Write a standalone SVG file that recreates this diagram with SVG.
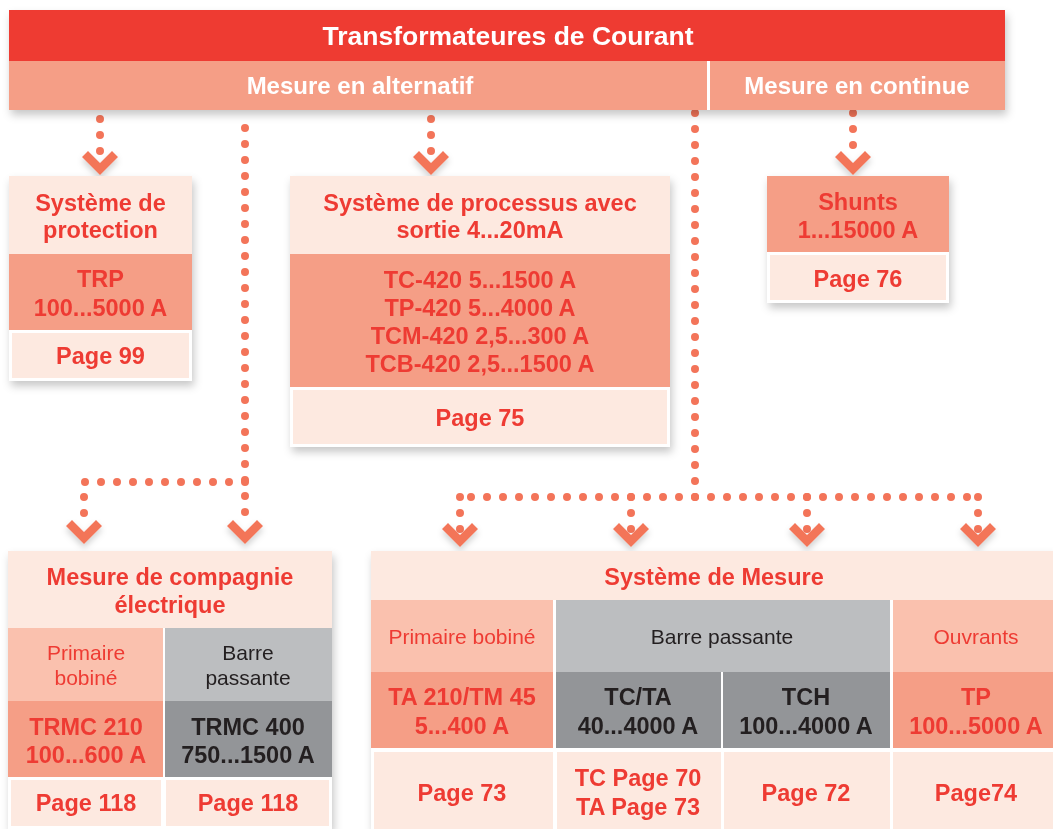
<svg xmlns="http://www.w3.org/2000/svg" width="1053" height="829" viewBox="0 0 1053 829">
<defs>
<filter id="sh" x="-10%" y="-10%" width="125%" height="130%">
<feDropShadow dx="2" dy="5" stdDeviation="4" flood-color="#000" flood-opacity="0.22"/>
</filter>
<filter id="shs" x="-30%" y="-30%" width="160%" height="180%">
<feDropShadow dx="0" dy="4" stdDeviation="3" flood-color="#000" flood-opacity="0.18"/>
</filter>
<path id="chev" d="M-18,-18 L-12,-24 L0,-12 L12,-24 L18,-18 L0,0 Z"/>
</defs>
<style>
text{font-family:"Liberation Sans",Arial,sans-serif;text-anchor:middle}
.b{font-weight:bold;font-size:23.5px;fill:#EE3B33}
.bd{font-weight:bold;font-size:23.5px;fill:#231F20}
.r{font-size:21px;fill:#EE3B33}
.rd{font-size:21px;fill:#231F20}
.w{font-weight:bold;fill:#FFFFFF}
.lt{fill:#FDE9E0}
.sa{fill:#F59E86}
.sl{fill:#FAC1AE}
.gl{fill:#BCBEC0}
.gd{fill:#939598}
.pg{fill:#FDE9E0;stroke:#FFFFFF;stroke-width:3}
.dot{fill:none;stroke:#F37459;stroke-width:8;stroke-linecap:round;stroke-dasharray:0 16}
.ch{fill:#F37459}
</style>

<g id="connectors">
<path class="dot" d="M100,119 V156"/>
<path class="dot" d="M245,128 V527"/>
<path class="dot" d="M245,482 H84 V527"/>
<path class="dot" d="M431,119 V156"/>
<path class="dot" d="M695,113 V497"/>
<path class="dot" d="M695,497 H458"/>
<path class="dot" d="M695,497 H979"/>
<path class="dot" d="M460,497 V531"/>
<path class="dot" d="M631,497 V531"/>
<path class="dot" d="M807,497 V531"/>
<path class="dot" d="M978,497 V531"/>
<path class="dot" d="M853,113 V156"/>
<g filter="url(#shs)">
<use href="#chev" class="ch" x="100" y="175"/>
<use href="#chev" class="ch" x="431" y="175"/>
<use href="#chev" class="ch" x="853" y="175"/>
<use href="#chev" class="ch" x="84" y="544"/>
<use href="#chev" class="ch" x="245" y="544"/>
<use href="#chev" class="ch" x="460" y="547"/>
<use href="#chev" class="ch" x="631" y="547"/>
<use href="#chev" class="ch" x="807" y="547"/>
<use href="#chev" class="ch" x="978" y="547"/>
</g>
</g>

<g id="header" filter="url(#sh)">
<rect x="9" y="10" width="996" height="51" fill="#EE3B33"/>
<rect x="9" y="61" width="996" height="49" fill="#F59E86"/>
<rect x="707" y="61" width="3" height="49" fill="#FFFFFF"/>
<text class="w" x="508" y="45" font-size="26.5">Transformateures de Courant</text>
<text class="w" x="360" y="94" font-size="24">Mesure en alternatif</text>
<text class="w" x="857" y="94" font-size="24">Mesure en continue</text>
</g>

<g id="protection">
<rect x="9" y="176" width="183" height="205" fill="#FFFFFF" filter="url(#sh)"/>
<rect class="lt" x="9" y="176" width="183" height="78"/>
<rect class="sa" x="9" y="254" width="183" height="77"/>
<rect class="pg" x="10.5" y="331.5" width="180" height="48"/>
<text class="b" x="100.5" y="211">Système de</text>
<text class="b" x="100.5" y="238">protection</text>
<text class="b" x="100.5" y="287">TRP</text>
<text class="b" x="100.5" y="316">100...5000 A</text>
<text class="b" x="100.5" y="364">Page 99</text>
</g>

<g id="processus">
<rect x="290" y="176" width="380" height="271" fill="#FFFFFF" filter="url(#sh)"/>
<rect class="lt" x="290" y="176" width="380" height="78"/>
<rect class="sa" x="290" y="254" width="380" height="134"/>
<rect class="pg" x="291.5" y="388.5" width="377" height="57"/>
<text class="b" x="480" y="211">Système de processus avec</text>
<text class="b" x="480" y="238">sortie 4...20mA</text>
<text class="b" x="480" y="288">TC-420 5...1500 A</text>
<text class="b" x="480" y="316">TP-420 5...4000 A</text>
<text class="b" x="480" y="344">TCM-420 2,5...300 A</text>
<text class="b" x="480" y="372">TCB-420 2,5...1500 A</text>
<text class="b" x="480" y="426">Page 75</text>
</g>

<g id="shunts">
<rect x="767" y="176" width="182" height="127" fill="#FFFFFF" filter="url(#sh)"/>
<rect class="sa" x="767" y="176" width="182" height="77"/>
<rect class="pg" x="768.5" y="253.5" width="179" height="48"/>
<text class="b" x="858" y="210">Shunts</text>
<text class="b" x="858" y="238">1...15000 A</text>
<text class="b" x="858" y="287">Page 76</text>
</g>

<g id="compagnie">
<rect x="8" y="551" width="324" height="278" fill="#FFFFFF" filter="url(#sh)"/>
<rect class="lt" x="8" y="551" width="324" height="77"/>
<rect class="sl" x="8" y="628" width="155" height="73"/>
<rect class="gl" x="165" y="628" width="167" height="73"/>
<rect class="sa" x="8" y="701" width="155" height="76"/>
<rect class="gd" x="165" y="701" width="167" height="76"/>
<rect class="pg" x="9.5" y="778.5" width="153" height="49"/>
<rect class="pg" x="164.5" y="778.5" width="166" height="49"/>
<text class="b" x="170" y="585">Mesure de compagnie</text>
<text class="b" x="170" y="613">électrique</text>
<text class="r" x="86" y="660">Primaire</text>
<text class="r" x="86" y="685">bobiné</text>
<text class="rd" x="248" y="660">Barre</text>
<text class="rd" x="248" y="685">passante</text>
<text class="b" x="86" y="735">TRMC 210</text>
<text class="b" x="86" y="763">100...600 A</text>
<text class="bd" x="248" y="735">TRMC 400</text>
<text class="bd" x="248" y="763">750...1500 A</text>
<text class="b" x="86" y="811">Page 118</text>
<text class="b" x="248" y="811">Page 118</text>
</g>

<g id="mesure">
<rect x="371" y="551" width="682" height="278" fill="#FFFFFF" filter="url(#sh)"/>
<rect class="lt" x="371" y="551" width="682" height="49"/>
<rect class="sl" x="371" y="600" width="182" height="72"/>
<rect class="gl" x="556" y="600" width="334" height="72"/>
<rect class="sl" x="893" y="600" width="160" height="72"/>
<rect class="sa" x="371" y="672" width="182" height="76"/>
<rect class="gd" x="556" y="672" width="165" height="76"/>
<rect class="gd" x="723" y="672" width="167" height="76"/>
<rect class="sa" x="893" y="672" width="160" height="76"/>
<rect class="pg" x="372.5" y="750.5" width="182" height="80"/>
<rect class="pg" x="555.5" y="750.5" width="167" height="80"/>
<rect class="pg" x="722.5" y="750.5" width="169" height="80"/>
<rect class="pg" x="891.5" y="750.5" width="163" height="80"/>
<text class="b" x="714" y="585">Système de Mesure</text>
<text class="r" x="462" y="644">Primaire bobiné</text>
<text class="rd" x="722" y="644">Barre passante</text>
<text class="r" x="976" y="644">Ouvrants</text>
<text class="b" x="462" y="705">TA 210/TM 45</text>
<text class="b" x="462" y="734">5...400 A</text>
<text class="bd" x="638" y="705">TC/TA</text>
<text class="bd" x="638" y="734">40...4000 A</text>
<text class="bd" x="806" y="705">TCH</text>
<text class="bd" x="806" y="734">100...4000 A</text>
<text class="b" x="976" y="705">TP</text>
<text class="b" x="976" y="734">100...5000 A</text>
<text class="b" x="462" y="801">Page 73</text>
<text class="b" x="638" y="786">TC Page 70</text>
<text class="b" x="638" y="815">TA Page 73</text>
<text class="b" x="806" y="801">Page 72</text>
<text class="b" x="976" y="801">Page74</text>
</g>
</svg>
